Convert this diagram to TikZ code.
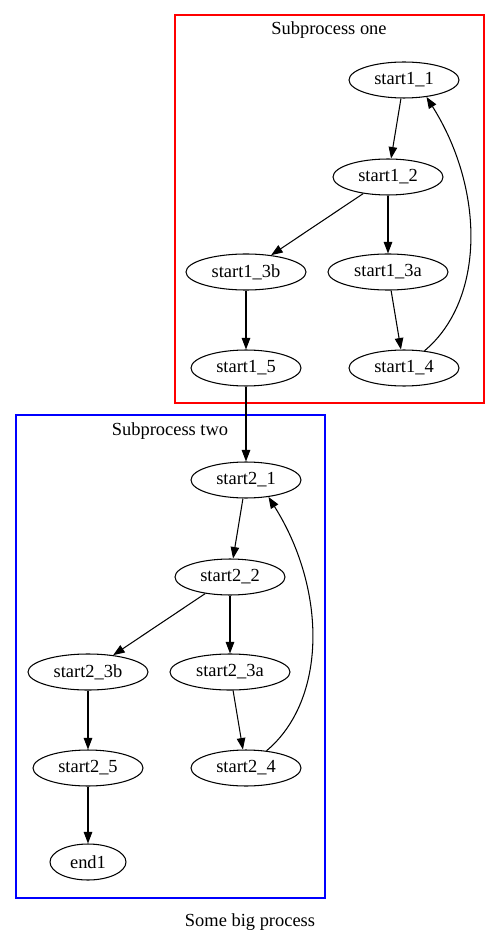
\documentclass[tikz,border=0pt]{standalone}
\usepackage{fontspec}
\setmainfont{Liberation Serif}
\usetikzlibrary{arrows.meta,shapes.geometric}
\tikzset{
  stepnode/.style={draw, ellipse, line width=0.6pt, minimum width=2.2cm,
    minimum height=0.72cm, inner sep=0pt, font=\fontsize{10.5}{12.6}\selectfont},
  widenode/.style={stepnode, minimum width=2.4cm},
  arr/.style={-{Triangle[length=2.3mm,width=1.7mm]}, line width=0.6pt},
  clusterlabel/.style={font=\fontsize{10.5}{12.6}\selectfont},
  clusterbox/.style={line width=0.7pt}
}
\begin{document}
\begin{tikzpicture}[x=0.02cm, y=-0.02cm]
    \useasboundingbox (0,0) rectangle (500,945);
    % subprocess one
    \draw[clusterbox, red] (175,15) rectangle (484,403);
    \node[clusterlabel] (lblone) at (329,30) {Subprocess one};
    \node[stepnode] (s11) at (404,80) {start1\_1};
    \node[stepnode] (s12) at (388,177) {start1\_2};
    \node[widenode] (s13b) at (246,272) {start1\_3b};
    \node[widenode] (s13a) at (388,272) {start1\_3a};
    \node[stepnode] (s15) at (246,368) {start1\_5};
    \node[stepnode] (s14) at (404,368) {start1\_4};
    % subprocess two
    \draw[clusterbox, blue] (16,415) rectangle (325,898);
    \node[clusterlabel] (lbltwo) at (170,431) {Subprocess two};
    \node[stepnode] (s21) at (246,480) {start2\_1};
    \node[stepnode] (s22) at (230,577) {start2\_2};
    \node[widenode] (s23b) at (88,672) {start2\_3b};
    \node[widenode] (s23a) at (230,672) {start2\_3a};
    \node[stepnode] (s25) at (88,768) {start2\_5};
    \node[stepnode] (s24) at (246,768) {start2\_4};
    \node[stepnode, minimum width=1.52cm] (end) at (88,862) {end1};
    \node[clusterlabel] (title) at (250,922) {Some big process};
    % edges
    \draw[arr] (s11) -- (s12);
    \draw[arr] (s12) -- (s13b);
    \draw[arr] (s12) -- (s13a);
    \draw[arr] (s13b) -- (s15);
    \draw[arr] (s13a) -- (s14);
    \draw[arr] (s14.40) .. controls (485,300) and (485,190) .. (s11.-37);
    \draw[arr] (s15) -- (s21);
    \draw[arr] (s21) -- (s22);
    \draw[arr] (s22) -- (s23b);
    \draw[arr] (s22) -- (s23a);
    \draw[arr] (s23b) -- (s25);
    \draw[arr] (s23a) -- (s24);
    \draw[arr] (s24.40) .. controls (327,700) and (327,590) .. (s21.-37);
    \draw[arr] (s25) -- (end);
\end{tikzpicture}
\end{document}
